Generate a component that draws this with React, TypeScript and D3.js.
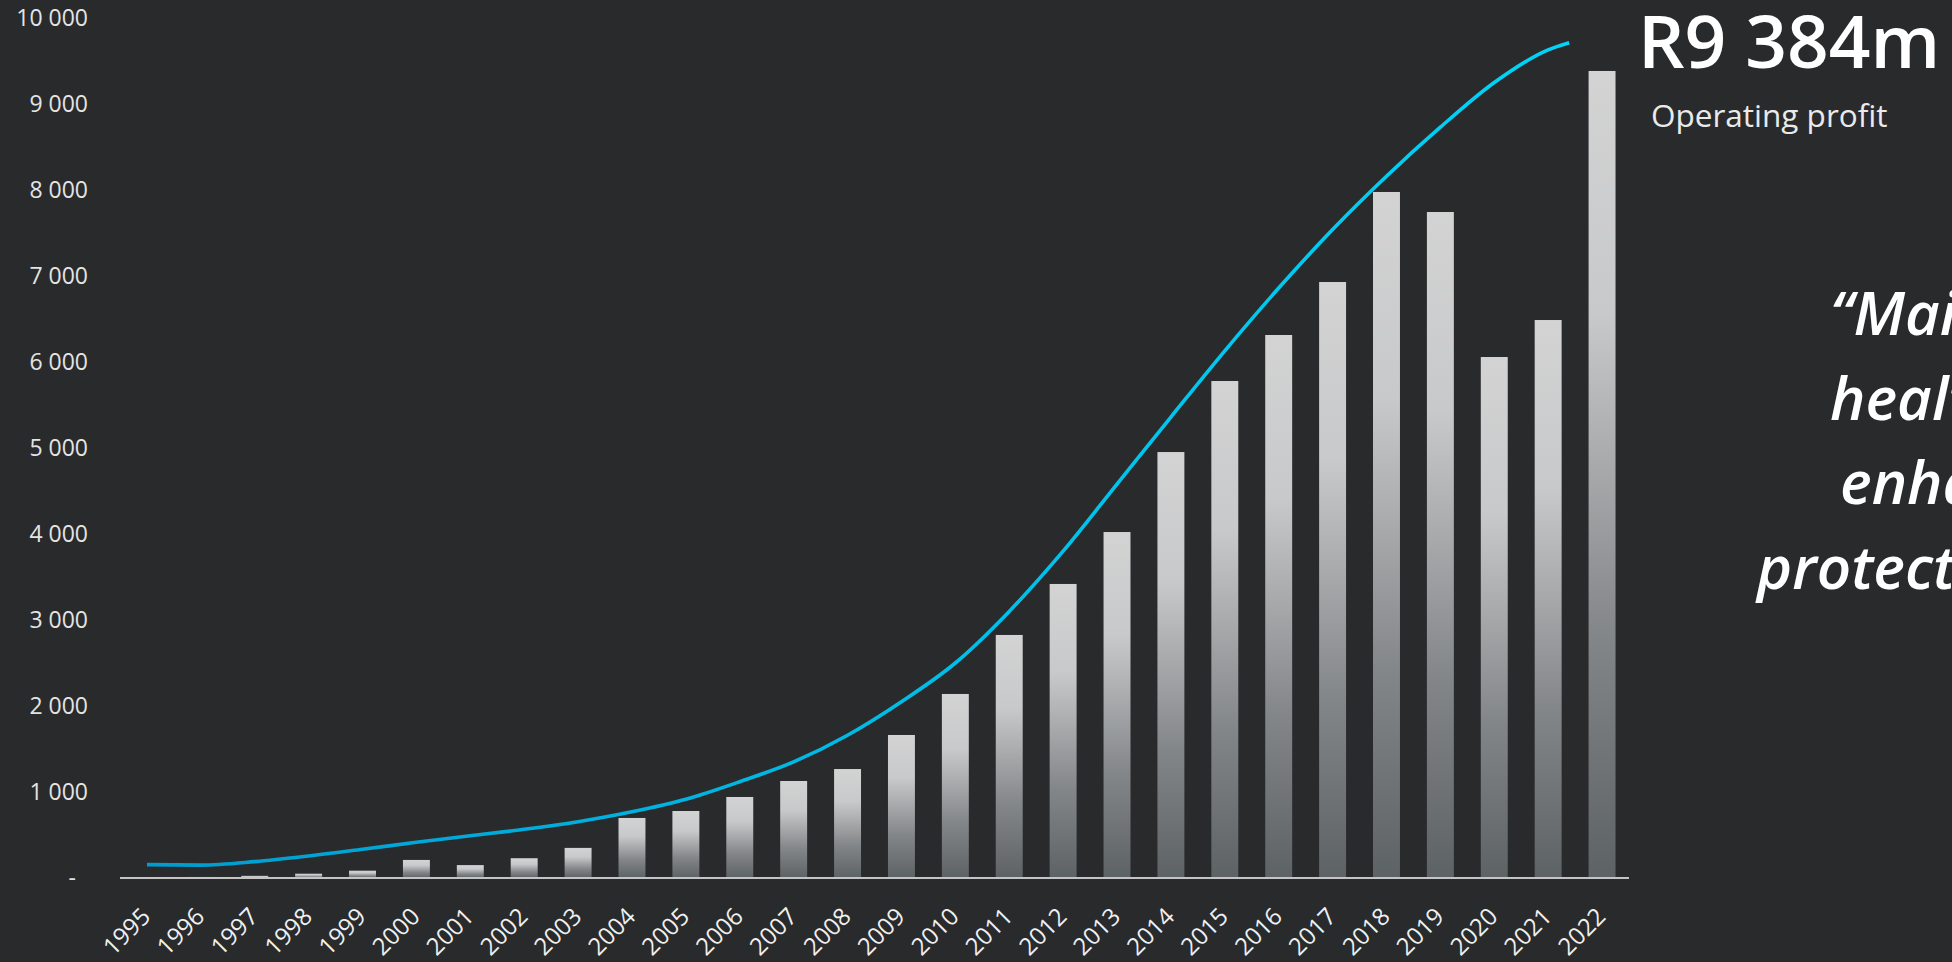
import React from "react";
import * as d3 from "d3";

const years = [
  "1995", "1996", "1997", "1998", "1999", "2000", "2001", "2002", "2003", "2004",
  "2005", "2006", "2007", "2008", "2009", "2010", "2011", "2012", "2013", "2014",
  "2015", "2016", "2017", "2018", "2019", "2020", "2021", "2022",
];
const profit = [
  3, 12, 25, 50, 85, 210, 150, 230, 350, 698,
  779, 942, 1128, 1267, 1663, 2140, 2826, 3419, 4023, 4953,
  5779, 6314, 6930, 7977, 7744, 6058, 6488, 9384,
];
// trend curve: [year position, value]
const trendYears = [
  1995, 1996, 1997, 1998, 1999, 2000, 2001, 2002, 2003, 2004, 2005, 2006, 2007,
  2008, 2009, 2010, 2011, 2012, 2013, 2014, 2015, 2016, 2017, 2018, 2019, 2020,
  2021, 2021.39,
];
const trendValues = [
  155, 150, 190, 256, 334, 415, 492, 566, 655, 770, 916, 1120, 1350,
  1660, 2050, 2500, 3100, 3800, 4580, 5360, 6130, 6860, 7540, 8160, 8730, 9250,
  9630, 9713,
];
const yTicks = [0, 1000, 2000, 3000, 4000, 5000, 6000, 7000, 8000, 9000, 10000];
const headline = "R9 384m";
const subline = "Operating profit";
const quoteLines = ["\u201CMaintaining", "healthy", "enhancing", "protecting"];

const W = 1952;
const H = 962;
const BG = "#292a2c";

export default function App() {
  const x = d3
    .scaleBand<string>()
    .domain(years)
    .range([120, 1629])
    .paddingInner(0.5)
    .paddingOuter(0.25);
  const y = d3.scaleLinear().domain([0, 10000]).range([878, 18]);
  const c0 = (x(years[0]) as number) + x.bandwidth() / 2;
  const c1 = (x(years[years.length - 1]) as number) + x.bandwidth() / 2;
  const xl = d3.scaleLinear().domain([1995, 2022]).range([c0, c1]);

  const fmt = d3.formatLocale({
    decimal: ".",
    thousands: " ",
    grouping: [3],
    currency: ["", ""],
  }).format(",.0f");

  const line = d3
    .line<number>()
    .x((_, i) => xl(trendYears[i]))
    .y((v) => y(v))
    .curve(d3.curveMonotoneX);

  const font = "'Open Sans', 'Noto Sans', sans-serif";

  return (
    <div
      style={{
        position: "fixed",
        left: 0,
        top: 0,
        width: W,
        height: H,
        background: BG,
        overflow: "hidden",
      }}
    >
      <svg width={W} height={H} style={{ display: "block" }}>
        <defs>
          <linearGradient id="barGrad" x1="0" y1="0" x2="0" y2="1">
            <stop offset="0" stopColor="#d3d3d3" />
            <stop offset="0.3" stopColor="#c8c9cb" />
            <stop offset="0.7" stopColor="#838688" />
            <stop offset="1" stopColor="#5d6265" />
          </linearGradient>
          <linearGradient
            id="lineGrad"
            gradientUnits="userSpaceOnUse"
            x1={c0}
            y1="0"
            x2={xl(2021.39)}
            y2="0"
          >
            <stop offset="0" stopColor="#009ccf" />
            <stop offset="0.45" stopColor="#00b8e4" />
            <stop offset="1" stopColor="#00d4f8" />
          </linearGradient>
        </defs>
        <rect x={0} y={0} width={W} height={H} fill={BG} />

        {yTicks.map((t) => (
          <text
            key={t}
            x={t === 0 ? 76 : 88}
            y={y(t)}
            dy="0.35em"
            textAnchor="end"
            fill="#e4e4e4"
            fontFamily={font}
            fontSize={23}
          >
            {t === 0 ? "-" : fmt(t)}
          </text>
        ))}

        {years.map((yr, i) => (
          <rect
            key={yr}
            x={x(yr)}
            y={y(profit[i])}
            width={x.bandwidth()}
            height={y(0) - y(profit[i])}
            fill="url(#barGrad)"
          />
        ))}

        <line x1={120} x2={1629} y1={y(0)} y2={y(0)} stroke="#c4c4c4" strokeWidth={2} />

        <path
          d={line(trendValues) || ""}
          fill="none"
          stroke="url(#lineGrad)"
          strokeWidth={3.6}
          strokeLinecap="butt"
        />

        {years.map((yr) => {
          const cx = (x(yr) as number) + x.bandwidth() / 2;
          return (
            <text
              key={yr}
              transform={`translate(${cx + 5},${918}) rotate(-45)`}
              textAnchor="end"
              fill="#f0f0f0"
              fontFamily={font}
              fontSize={24}
            >
              {yr}
            </text>
          );
        })}

        <text x={1638} y={68} fill="#ffffff" fontFamily={font} fontWeight={600} fontSize={73}>
          {headline}
        </text>
        <text x={1651} y={127} fill="#eaeaea" fontFamily={font} fontSize={31.5}>
          {subline}
        </text>

        {quoteLines.map((q, i) => (
          <text
            key={q}
            x={[1830, 1830, 1840, 1757][i]}
            y={335 + i * 84.5}
            fill="#ffffff"
            fontFamily={font}
            fontStyle="italic"
            fontWeight={600}
            fontSize={60}
          >
            {q}
          </text>
        ))}
      </svg>
    </div>
  );
}
